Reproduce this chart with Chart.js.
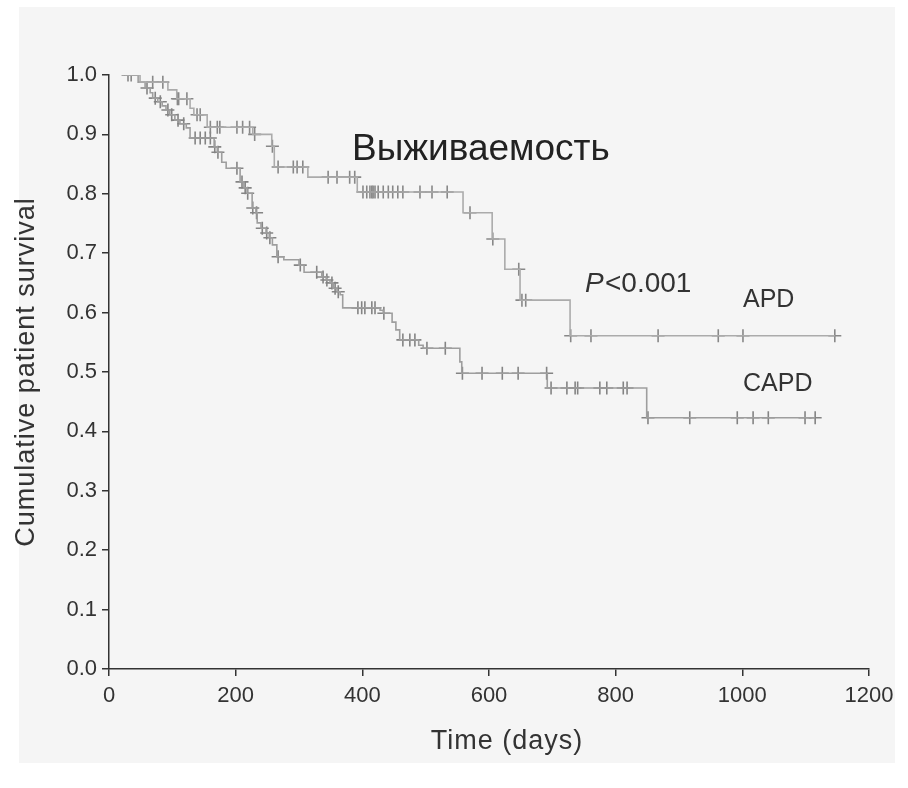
<!DOCTYPE html>
<html>
<head>
<meta charset="utf-8">
<script src="https://cdn.jsdelivr.net/npm/chart.js@4/dist/chart.umd.min.js"></script>
<style>
  body { margin: 0; background: #fff; }
  #bg { position: absolute; left: 19px; top: 7px; width: 876px; height: 756px; background: #f5f5f5; }
  #plot { position: absolute; left: 0; top: 0; }
</style>
</head>
<body>
<div id="bg"></div>
<canvas id="plot" width="908" height="788"></canvas>
<script>
// Kaplan-Meier steps (day of drop, survival after it)
const apdDays = [25, 49, 93, 107, 128, 134, 155, 227, 257, 261, 314, 392, 559, 605, 625, 649, 728, 1146];
const apdSurvival = [1.0, 0.988, 0.975, 0.96, 0.944, 0.933, 0.912, 0.90, 0.88, 0.845, 0.828, 0.803, 0.768, 0.724, 0.673, 0.621, 0.561, 0.561];
const apdCensored = [30, 35, 69, 85, 108, 110, 123, 139, 144, 160, 171, 175, 202, 211, 222, 230, 258, 267, 291, 297, 306,
  346, 360, 380, 388, 401, 407, 412, 415, 417, 420, 425, 433, 441, 448, 456, 464, 491, 510, 534, 570, 606, 647, 652, 658,
  729, 761, 867, 962, 1001, 1146];

const capdDays = [25, 46, 57, 65, 69, 77, 84, 90, 96, 104, 112, 122, 128, 166, 171, 178, 185, 207, 213, 218,
  226, 232, 234, 240, 248, 253, 258, 265, 276, 300, 308, 336, 343, 349, 354, 360, 365, 369, 428, 433,
  447, 453, 459, 489, 496, 554, 557, 692, 849, 1115];
const capdSurvival = [1.0, 0.988, 0.978, 0.970, 0.961, 0.955, 0.948, 0.941, 0.933, 0.924, 0.918, 0.911, 0.894, 0.879, 0.870, 0.853, 0.843, 0.82, 0.81, 0.801,
  0.776, 0.768, 0.751, 0.742, 0.734, 0.726, 0.714, 0.694, 0.689, 0.68, 0.668, 0.66, 0.655, 0.65, 0.641, 0.635, 0.63, 0.608, 0.604, 0.599,
  0.584, 0.571, 0.554, 0.545, 0.54, 0.517, 0.498, 0.473, 0.423, 0.423];
const capdCensored = [60, 73, 81, 93, 99, 109, 118, 136, 144, 152, 160, 167, 172, 202, 210, 215, 219, 227, 233, 242, 249, 254,
  267, 302, 328, 338, 344, 352, 357, 362, 393, 399, 404, 415, 420, 434, 464, 475, 483, 502, 531, 558, 589, 621, 646, 691,
  698, 723, 736, 740, 775, 786, 812, 818, 851, 917, 992, 1017, 1041, 1099, 1115];

const xTicks = [0, 200, 400, 600, 800, 1000, 1200];
const yTicks = [0, 0.1, 0.2, 0.3, 0.4, 0.5, 0.6, 0.7, 0.8, 0.9, 1.0];

// survival level of the curve at a given day
function levelAt(days, surv, t) {
  let s = surv[0];
  for (let i = 0; i < days.length; i++) {
    if (days[i] <= t) s = surv[i];
  }
  return s;
}

const stepPoints = (days, surv) => days.map((d, i) => ({ x: d, y: surv[i] }));
const censorPoints = (cens, days, surv) => cens.map(d => ({ x: d, y: levelAt(days, surv, d) }));

const axisColor = '#333';
const tickFont = { family: 'Liberation Sans, Arial, sans-serif', size: 22 };

const textPlugin = {
  id: 'labels',
  afterDraw(chart) {
    const ctx = chart.ctx;
    const area = chart.chartArea;
    ctx.save();
    ctx.fillStyle = '#222';
    ctx.textBaseline = 'alphabetic';
    ctx.font = '37px "Liberation Sans", Arial, sans-serif';
    ctx.fillText('Выживаемость', 352, 160);
    ctx.fillStyle = '#333';
    ctx.font = 'italic 28px "Liberation Sans", Arial, sans-serif';
    ctx.fillText('P', 585, 292);
    ctx.font = '28px "Liberation Sans", Arial, sans-serif';
    ctx.fillText('<0.001', 605, 292);
    ctx.font = '25px "Liberation Sans", Arial, sans-serif';
    ctx.fillText('APD', 743, 307);
    ctx.fillText('CAPD', 743, 391);

    // axis titles
    ctx.font = '27px "Liberation Sans", Arial, sans-serif';
    ctx.textAlign = 'center';
    ctx.letterSpacing = '1px';
    ctx.fillText('Time (days)', 507, 749);
    ctx.translate(27, (area.top + area.bottom) / 2);
    ctx.rotate(-Math.PI / 2);
    ctx.textBaseline = 'middle';
    ctx.fillText('Cumulative patient survival', 0, 0);
    ctx.restore();
  }
};

new Chart(document.getElementById('plot'), {
  type: 'line',
  data: {
    datasets: [
      {
        label: 'APD',
        data: stepPoints(apdDays, apdSurvival),
        stepped: true,
        borderColor: '#ababab',
        borderWidth: 1.6,
        pointRadius: 0
      },
      {
        label: 'CAPD',
        data: stepPoints(capdDays, capdSurvival),
        stepped: true,
        borderColor: '#9e9e9e',
        borderWidth: 1.6,
        pointRadius: 0
      },
      {
        label: 'APD censored',
        data: censorPoints(apdCensored, apdDays, apdSurvival),
        showLine: false,
        pointStyle: 'cross',
        pointRadius: 6.5,
        pointBorderWidth: 1.6,
        pointBorderColor: '#888'
      },
      {
        label: 'CAPD censored',
        data: censorPoints(capdCensored, capdDays, capdSurvival),
        showLine: false,
        pointStyle: 'cross',
        pointRadius: 6.5,
        pointBorderWidth: 1.6,
        pointBorderColor: '#848484'
      }
    ]
  },
  options: {
    responsive: false,
    animation: false,
    layout: { padding: { left: 0, top: 75, right: 39, bottom: 0 } },
    plugins: { legend: { display: false }, tooltip: { enabled: false } },
    scales: {
      x: {
        type: 'linear',
        min: 0,
        max: 1200,
        afterBuildTicks: s => { s.ticks = xTicks.map(v => ({ value: v })); },
        afterFit: s => { s.height = 119; },
        ticks: { color: axisColor, font: tickFont, padding: 7, maxRotation: 0, callback: v => String(v) },
        grid: { drawOnChartArea: false, tickLength: 7, color: axisColor, lineWidth: 1.5 },
        border: { color: axisColor, width: 1.5 }
      },
      y: {
        min: 0,
        max: 1,
        afterBuildTicks: s => { s.ticks = yTicks.map(v => ({ value: v })); },
        afterFit: s => { s.width = 109; },
        ticks: { color: axisColor, font: tickFont, padding: 5, callback: v => v.toFixed(1) },
        grid: { drawOnChartArea: false, tickLength: 7, color: axisColor, lineWidth: 1.5 },
        border: { color: axisColor, width: 1.5 }
      }
    }
  },
  plugins: [textPlugin]
});
</script>
</body>
</html>
